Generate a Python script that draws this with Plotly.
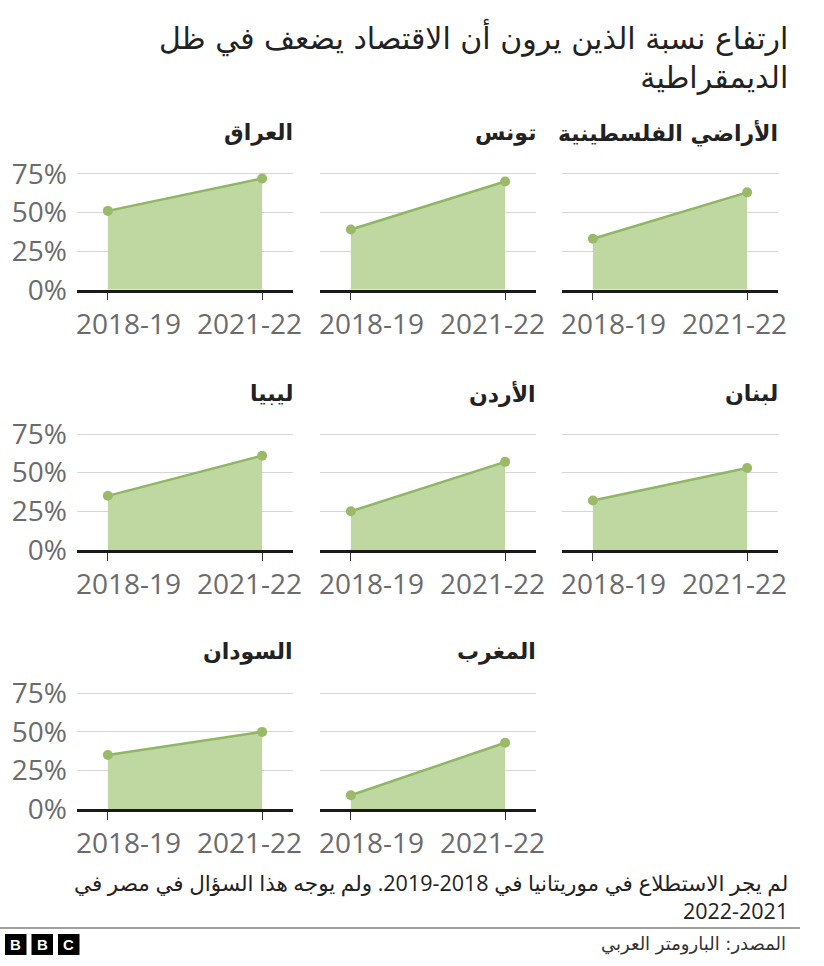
import plotly.graph_objects as go

# ---- data ----
countries = ["الأراضي الفلسطينية", "تونس", "العراق", "لبنان", "الأردن", "ليبيا", "المغرب", "السودان"]
periods = ["2018-19", "2021-22"]
v_2018_19 = [33, 39, 51, 32, 25, 35, 9, 35]
v_2021_22 = [63, 70, 72, 53, 57, 61, 43, 50]
y_ticks = [0, 25, 50, 75]
y_ticktext = ["0%", "25%", "50%", "75%"]

title_lines = ["ارتفاع نسبة الذين يرون أن الاقتصاد يضعف في ظل", "الديمقراطية"]
note_lines = ["لم يجر الاستطلاع في موريتانيا في 2018-2019. ولم يوجه هذا السؤال في مصر في", "2022-2021"]
source_text = "المصدر: البارومتر العربي"

# ---- layout helpers (target screen pixels -> paper) ----
W, H = 824, 966
SY, OY = 0.97, 14.0   # observed vertical mapping of the renderer
def px(x):
    return x / W
def py(y):
    return 1 - ((y - OY) / SY) / H

col_x = [(77, 293), (320, 536), (562, 778)]
row_base = [292, 552.5, 812]
unit = 116 / 75.0
ymax = 80
positions = [(0, 2), (0, 1), (0, 0), (1, 2), (1, 1), (1, 0), (2, 1), (2, 0)]

FILL = "#bfd8a2"
LINE = "#90b663"
MARK = "#9aba69"
GRID = "#d6d6d6"
TICKC = "#6b6b6b"
AR_FONT = "DejaVu Sans"
NUM_FONT = "Open Sans, DejaVu Sans"

fig = go.Figure()
annotations = []
layout_axes = {}

for i, name in enumerate(countries):
    r, c = positions[i]
    n = i + 1
    xa = "x" if n == 1 else f"x{n}"
    ya = "y" if n == 1 else f"y{n}"
    fig.add_trace(go.Scatter(
        x=periods, y=[v_2018_19[i], v_2021_22[i]],
        xaxis=xa, yaxis=ya,
        mode="lines+markers", fill="tozeroy",
        fillcolor=FILL,
        line=dict(color=LINE, width=2.5),
        marker=dict(color=MARK, size=10),
        showlegend=False, hoverinfo="x+y",
    ))
    x0, x1 = col_x[c]
    base = row_base[r]
    top = base - ymax * unit
    layout_axes[f"xaxis{'' if n == 1 else n}"] = dict(
        domain=[px(x0), px(x1)], anchor=ya, type="category",
        range=[-0.2, 1.2], showgrid=False, zeroline=False,
        showline=True, linecolor="#1a1a1a", linewidth=2.5,
        ticks="outside", ticklen=8, tickwidth=1.2, tickcolor="#333",
        showticklabels=False, fixedrange=True,
    )
    layout_axes[f"yaxis{'' if n == 1 else n}"] = dict(
        domain=[py(base), py(top)], anchor=xa, range=[0, ymax],
        tickvals=y_ticks, ticktext=y_ticktext,
        showticklabels=(c == 0), ticks="", ticklabelstandoff=9,
        tickfont=dict(family=NUM_FONT, size=28, color=TICKC),
        showgrid=True, gridcolor=GRID, gridwidth=1, zeroline=False,
        showline=False, fixedrange=True,
    )
    # panel title
    annotations.append(dict(
        text=f"<b>{name}</b>", xref="paper", yref="paper",
        x=px(x1 + 2), y=py(base - 157), xanchor="right", yanchor="middle",
        showarrow=False, font=dict(family=AR_FONT, size=22, color="#222"),
    ))
    # x tick labels (shifted inward like the original)
    for k, p in enumerate(periods):
        annotations.append(dict(
            text=p, xref=xa, yref="paper", x=p, y=py(base + 12),
            xanchor="center", yanchor="top",
            xshift=(21 if k == 0 else -13),
            showarrow=False, font=dict(family=NUM_FONT, size=28, color=TICKC),
        ))

# main title (one text block, right aligned)
annotations.append(dict(
    text="<br>".join(title_lines), xref="paper", yref="paper",
    x=px(790), y=py(59), xanchor="right", yanchor="middle", align="right",
    showarrow=False, font=dict(family=AR_FONT, size=30, color="#222"),
))
# footnote
annotations.append(dict(
    text="<br>".join(note_lines), xref="paper", yref="paper",
    x=px(790), y=py(899), xanchor="right", yanchor="middle", align="right",
    showarrow=False, font=dict(family=NUM_FONT, size=21.5, color="#222"),
))
# source
annotations.append(dict(
    text=source_text, xref="paper", yref="paper", x=px(788), y=py(947),
    xanchor="right", yanchor="middle", showarrow=False,
    font=dict(family=AR_FONT, size=18, color="#333"),
))

shapes = [dict(type="line", xref="paper", yref="paper", x0=0, x1=px(800),
               y0=py(931), y1=py(931), line=dict(color="#a0a0a0", width=2))]
# BBC blocks
for k, letter in enumerate(["B", "B", "C"]):
    bx0 = 5 + 26.5 * k
    shapes.append(dict(type="rect", xref="paper", yref="paper",
                       x0=px(bx0), x1=px(bx0 + 21.5), y0=py(958), y1=py(937),
                       fillcolor="#000", line=dict(width=0)))
    annotations.append(dict(text=f"<b>{letter}</b>", xref="paper", yref="paper",
                            x=px(bx0 + 10.75), y=py(947.5), xanchor="center", yanchor="middle",
                            showarrow=False, font=dict(family="Liberation Sans", size=15, color="#fff")))

fig.update_layout(
    width=W, height=H, margin=dict(l=0, r=0, t=0, b=0),
    paper_bgcolor="#fff", plot_bgcolor="#fff",
    annotations=annotations, shapes=shapes, **layout_axes,
)

fig.write_html(
    "out.html",
    config={"displayModeBar": False},
    post_script="document.body.style.margin='0';document.body.style.overflow='hidden';",
)
